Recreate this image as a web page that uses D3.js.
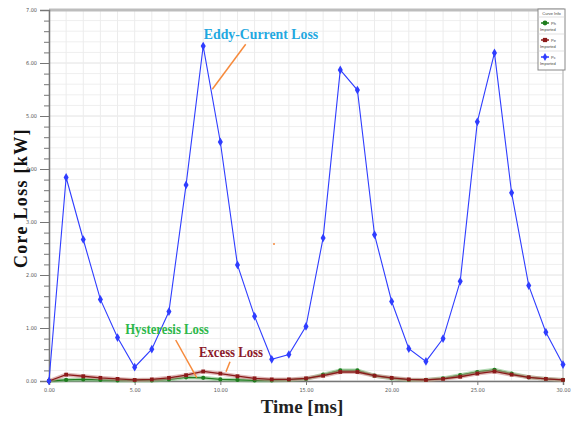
<!DOCTYPE html>
<html>
<head>
<meta charset="utf-8">
<script src="https://cdn.jsdelivr.net/npm/d3@7"></script>
<style>
  body { margin: 0; background: #fff; }
  svg { display: block; }
</style>
</head>
<body>
<div id="chart"></div>
<script>
const width = 578;
const height = 421;

// time in ms
const timeMs = d3.range(0, 31);
// core loss components [kW]
const pc = [0, 3.84, 2.67, 1.54, 0.82, 0.26, 0.60, 1.31, 3.70, 6.32, 4.51, 2.19, 1.22, 0.41, 0.50, 1.03,
            2.70, 5.87, 5.49, 2.76, 1.50, 0.61, 0.37, 0.80, 1.88, 4.89, 6.19, 3.55, 1.80, 0.92, 0.31];
const pe = [0, 0.12, 0.09, 0.06, 0.04, 0.02, 0.03, 0.06, 0.11, 0.18, 0.14, 0.09, 0.05, 0.03, 0.03, 0.05,
            0.10, 0.17, 0.17, 0.10, 0.06, 0.03, 0.02, 0.04, 0.08, 0.14, 0.18, 0.12, 0.07, 0.04, 0.02];
const ph = [0, 0.02, 0.03, 0.02, 0.01, 0.01, 0.01, 0.03, 0.07, 0.06, 0.03, 0.02, 0.01, 0.01, 0.02, 0.04,
            0.12, 0.20, 0.20, 0.10, 0.05, 0.02, 0.02, 0.05, 0.11, 0.17, 0.21, 0.14, 0.07, 0.04, 0.02];
const xTicks = [0, 5, 10, 15, 20, 25, 30];
const yTicks = [0, 1, 2, 3, 4, 5, 6, 7];
const legendNames = ["Ph", "Pe", "Pc"];

const margin = { top: 10, right: 15, bottom: 40, left: 49 };
const x = d3.scaleLinear().domain([0, 30]).range([margin.left, width - margin.right]);
const y = d3.scaleLinear().domain([0, 7]).range([height - margin.bottom, margin.top]);

const svg = d3.select("#chart").append("svg")
    .attr("width", width)
    .attr("height", height);

// grid
svg.append("g")
    .selectAll("line")
    .data(d3.range(0, 7.01, 0.2))
    .join("line")
    .attr("x1", x(0)).attr("x2", x(30))
    .attr("y1", d => y(d)).attr("y2", d => y(d))
    .attr("stroke", d => Math.abs(d - Math.round(d)) < 1e-6 ? "#e2e2e2" : "#efefef")
    .attr("stroke-width", 1);

svg.append("g")
    .selectAll("line")
    .data(d3.range(0, 31, 1))
    .join("line")
    .attr("x1", d => x(d)).attr("x2", d => x(d))
    .attr("y1", y(0)).attr("y2", y(7))
    .attr("stroke", "#ececec")
    .attr("stroke-width", 1);

// frame: thick top, right
svg.append("line")
    .attr("x1", x(0)).attr("x2", x(30) + 1)
    .attr("y1", y(7)).attr("y2", y(7))
    .attr("stroke", "#bdbdbd").attr("stroke-width", 3);
svg.append("line")
    .attr("x1", x(30)).attr("x2", x(30))
    .attr("y1", y(7)).attr("y2", y(0))
    .attr("stroke", "#c8c8c8").attr("stroke-width", 1.5);

// y axis
const yAxis = svg.append("g")
    .attr("transform", `translate(${x(0)},0)`)
    .call(d3.axisLeft(y).tickValues(yTicks).tickFormat(d3.format(".2f")).tickSize(9).tickPadding(3));
svg.append("g")
    .attr("transform", `translate(${x(0)},0)`)
    .call(d3.axisLeft(y).tickValues(d3.range(0, 7.01, 0.2).filter(d => Math.abs(d - Math.round(d)) > 1e-6))
        .tickFormat("").tickSize(5))
    .call(g => g.select(".domain").remove());

// x axis
const xAxis = svg.append("g")
    .attr("transform", `translate(0,${y(0)})`)
    .call(d3.axisBottom(x).tickValues(xTicks).tickFormat(d3.format(".2f")).tickSize(4).tickPadding(3));

[yAxis, xAxis].forEach(g => {
  g.select(".domain").attr("stroke", "#777").attr("stroke-width", 1.5);
  g.selectAll(".tick text")
    .attr("fill", "#555")
    .style("font-family", "'Liberation Sans Narrow', 'DejaVu Sans Condensed', sans-serif")
    .style("font-size", "5.5px");
});
svg.selectAll(".tick line").attr("stroke", "#777");

// axis titles
svg.append("text")
    .attr("x", x(15) - 4)
    .attr("y", 413)
    .attr("text-anchor", "middle")
    .style("font-family", "'Liberation Serif', 'Times New Roman', serif")
    .style("font-weight", "bold")
    .style("font-size", "19px")
    .attr("fill", "#222")
    .text("Time [ms]");

svg.append("text")
    .attr("transform", `translate(27,${y(3.45)}) rotate(-90)`)
    .attr("text-anchor", "middle")
    .style("font-family", "'Liberation Serif', 'Times New Roman', serif")
    .style("font-weight", "bold")
    .style("font-size", "18px")
    .style("letter-spacing", "1.3px")
    .attr("fill", "#111")
    .text("Core Loss [kW]");

const line = d3.line().x((d, i) => x(timeMs[i])).y(d => y(d));

// series
const series = [
  { name: "Ph", values: ph, color: "#1e7d1e", band: "#7fbf7f", shape: d3.symbolCircle, size: 14 },
  { name: "Pe", values: pe, color: "#8b1a1a", band: "#c98888", shape: d3.symbolSquare, size: 14 },
  { name: "Pc", values: pc, color: "#2f3dff", band: null, shape: d3.symbolDiamond, size: 22 }
];

series.forEach(s => {
  if (s.band) {
    svg.append("path")
      .datum(s.values)
      .attr("d", line)
      .attr("fill", "none")
      .attr("stroke", s.band)
      .attr("stroke-opacity", 0.6)
      .attr("stroke-width", 4);
  }
  svg.append("path")
    .datum(s.values)
    .attr("d", line)
    .attr("fill", "none")
    .attr("stroke", s.color)
    .attr("stroke-width", s.band ? 1.3 : 1.1);
  svg.append("g")
    .selectAll("path")
    .data(s.values)
    .join("path")
    .attr("transform", (d, i) => `translate(${x(timeMs[i])},${y(d)})`)
    .attr("d", d3.symbol().type(s.shape).size(s.size))
    .attr("fill", s.color);
});

// annotations
const notes = [
  { text: "Eddy-Current Loss", color: "#1fa8e0", tx: 261, ty: 39, sx: 0.92, x1: 245.7, y1: 44.3, x2: 212.3, y2: 89.3 },
  { text: "Hysteresis Loss", color: "#2db84a", tx: 167, ty: 334, sx: 0.85, x1: 175.7, y1: 340, x2: 196.7, y2: 377.7 },
  { text: "Excess Loss", color: "#8b1a2a", tx: 231, ty: 357, sx: 0.85, x1: 230, y1: 361.7, x2: 226, y2: 371.7 }
];

notes.forEach(n => {
  svg.append("line")
    .attr("x1", n.x1).attr("y1", n.y1)
    .attr("x2", n.x2).attr("y2", n.y2)
    .attr("stroke", "#f68a3c")
    .attr("stroke-width", 1.5);
  svg.append("text")
    .attr("x", n.tx)
    .attr("y", n.ty)
    .attr("text-anchor", "middle")
    .style("font-family", "'Liberation Serif', 'Times New Roman', serif")
    .style("font-weight", "bold")
    .style("font-size", "15px")
    .attr("transform", `translate(${n.tx},${n.ty}) scale(${n.sx},1) translate(${-n.tx},${-n.ty})`)
    .attr("fill", n.color)
    .text(n.text);
});
svg.append("circle")
    .attr("cx", 274).attr("cy", 244).attr("r", 1)
    .attr("fill", "#f68a3c");

// legend
const legend = svg.append("g").attr("transform", "translate(538,9)");
legend.append("rect")
    .attr("width", 27).attr("height", 61)
    .attr("fill", "#fff")
    .attr("stroke", "#888")
    .attr("stroke-width", 1);
legend.append("text")
    .attr("x", 13.5).attr("y", 6)
    .attr("text-anchor", "middle")
    .style("font-family", "'Liberation Sans Narrow', sans-serif")
    .style("font-size", "4px")
    .attr("fill", "#444")
    .text("Curve Info");

legend.selectAll("g.item")
    .data(series)
    .join("g")
    .attr("class", "item")
    .attr("transform", (d, i) => `translate(0,${10 + i * 17})`)
    .each(function(d, i) {
      const g = d3.select(this);
      g.append("line").attr("x1", 0).attr("x2", 27).attr("y1", -2).attr("y2", -2)
        .attr("stroke", "#ccc").attr("stroke-width", 0.6);
      g.append("line").attr("x1", 3).attr("x2", 11).attr("y1", 4).attr("y2", 4)
        .attr("stroke", d.color).attr("stroke-width", 1.5);
      g.append("path")
        .attr("transform", "translate(7,4)")
        .attr("d", d3.symbol().type(d.shape).size(18))
        .attr("fill", d.color);
      g.append("text").attr("x", 13).attr("y", 5.5)
        .style("font-family", "'Liberation Sans Narrow', sans-serif")
        .style("font-size", "4px").attr("fill", "#444")
        .text(legendNames[i]);
      g.append("text").attr("x", 2).attr("y", 12)
        .style("font-family", "'Liberation Sans Narrow', sans-serif")
        .style("font-size", "4px").attr("fill", "#444")
        .text("Imported");
    });
</script>
</body>
</html>
